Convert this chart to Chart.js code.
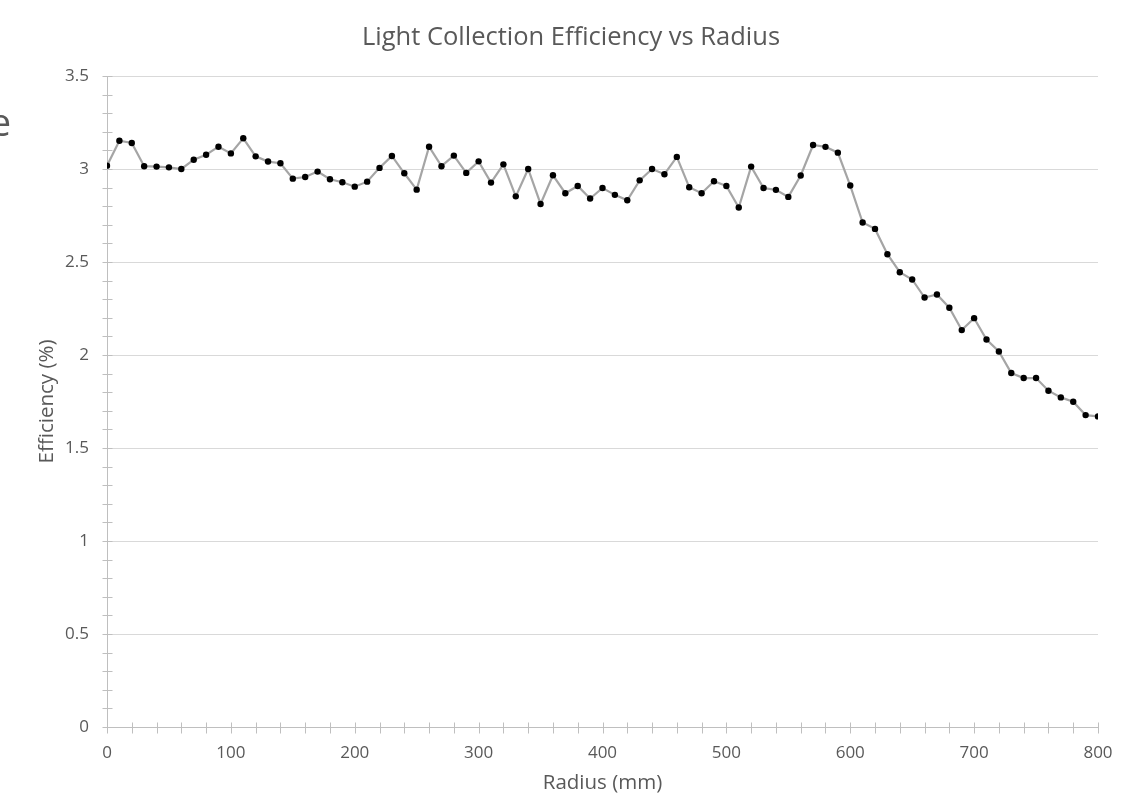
<!DOCTYPE html>
<html><head><meta charset="utf-8">
<script src="https://cdn.jsdelivr.net/npm/chart.js@4/dist/chart.umd.min.js"></script>
<style>html,body{margin:0;padding:0;background:#fff;overflow:hidden}#wrap{width:1130px;height:811px;position:relative}</style>
</head><body><div id="wrap"><canvas id="c" width="1130" height="811"></canvas></div>
<script>
const chartTitle = 'Light Collection Efficiency vs Radius';
const xTitle = 'Radius (mm)';
const yTitle = 'Efficiency (%)';
const radius = [0,10,20,30,40,50,60,70,80,90,100,110,120,130,140,150,160,170,180,190,200,210,220,230,240,250,260,270,280,290,300,310,320,330,340,350,360,370,380,390,400,410,420,430,440,450,460,470,480,490,500,510,520,530,540,550,560,570,580,590,600,610,620,630,640,650,660,670,680,690,700,710,720,730,740,750,760,770,780,790,800];
const efficiency = [3.018,3.152,3.140,3.015,3.013,3.009,3.000,3.050,3.077,3.120,3.084,3.165,3.068,3.040,3.031,2.948,2.957,2.986,2.945,2.929,2.905,2.932,3.006,3.070,2.977,2.889,3.120,3.015,3.072,2.979,3.041,2.927,3.025,2.853,3.000,2.812,2.966,2.870,2.909,2.841,2.898,2.861,2.832,2.939,3.000,2.972,3.065,2.902,2.870,2.934,2.909,2.793,3.013,2.898,2.888,2.850,2.965,3.129,3.119,3.088,2.911,2.712,2.678,2.542,2.445,2.406,2.309,2.325,2.254,2.134,2.198,2.083,2.019,1.903,1.876,1.876,1.808,1.772,1.749,1.677,1.670];
const xRange = [0, 800];
const yRange = [0, 3.5];
const xMajorStep = 100, xMinorStep = 20;
const yMajorStep = 0.5, yMinorStep = 0.1;

const FONT = "'Open Sans', 'Noto Sans', sans-serif";
const TEXT = '#595959';
const AXIS = '#bfbfbf';
const GRID = '#d9d9d9';

const crossTicks = {
  id: 'crossTicks',
  beforeDatasetsDraw(chart) {
    const {ctx, scales: {x, y}} = chart;
    ctx.save();
    ctx.strokeStyle = AXIS;
    ctx.lineWidth = 1;
    ctx.beginPath();
    const yb = Math.round(y.getPixelForValue(yRange[0])) + 0.5;
    const nx = Math.round((xRange[1] - xRange[0]) / xMinorStep);
    for (let i = 0; i <= nx; i++) {
      const px = Math.round(x.getPixelForValue(xRange[0] + i * xMinorStep)) + 0.5;
      ctx.moveTo(px, yb - 5); ctx.lineTo(px, yb + 6);
    }
    const xl = Math.round(x.getPixelForValue(xRange[0])) + 0.5;
    const ny = Math.round((yRange[1] - yRange[0]) / yMinorStep);
    for (let i = 0; i <= ny; i++) {
      const py = Math.round(y.getPixelForValue(yRange[0] + i * yMinorStep)) + 0.5;
      ctx.moveTo(xl - 5, py); ctx.lineTo(xl + 5, py);
    }
    ctx.stroke();
    ctx.restore();
  }
};

const fragment = {
  id: 'fragment',
  afterDraw(chart) {
    const ctx = chart.ctx;
    ctx.save();
    ctx.fillStyle = TEXT;
    ctx.font = "38px " + FONT;
    ctx.textAlign = 'right';
    ctx.textBaseline = 'alphabetic';
    ctx.fillText('e', 11, 136);
    ctx.restore();
  }
};

new Chart(document.getElementById('c'), {
  type: 'line',
  data: {
    datasets: [{
      label: 'Efficiency',
      data: radius.map((r, i) => ({x: r, y: efficiency[i]})),
      borderColor: '#a5a5a5',
      borderWidth: 2.2,
      pointRadius: 3.2,
      pointBackgroundColor: '#000',
      pointBorderColor: '#000',
      pointBorderWidth: 0,
      tension: 0,
      fill: false
    }]
  },
  options: {
    responsive: false,
    animation: false,
    devicePixelRatio: 1,
    layout: {padding: {left: 44, right: 32, top: 0, bottom: 0}},
    plugins: {
      legend: {display: false},
      tooltip: {enabled: false},
      title: {
        display: true,
        text: chartTitle,
        color: TEXT,
        font: {family: FONT, size: 25.5, weight: 'normal'},
        padding: {top: 22.7, bottom: 22.7}
      }
    },
    scales: {
      x: {
        type: 'linear',
        min: xRange[0], max: xRange[1],
        afterFit: s => { s.height = 84; },
        ticks: {stepSize: xMajorStep, color: TEXT, font: {family: FONT, size: 17}, padding: 16, maxRotation: 0},
        grid: {drawOnChartArea: false, drawTicks: false},
        border: {display: true, color: AXIS, width: 1},
        title: {display: true, text: xTitle, color: TEXT, font: {family: FONT, size: 20.5}, padding: {top: 0, bottom: 15.5}}
      },
      y: {
        type: 'linear',
        min: yRange[0], max: yRange[1],
        afterFit: s => { s.width = 63; },
        ticks: {stepSize: yMajorStep, color: TEXT, font: {family: FONT, size: 17}, padding: 18,
          callback: v => String(+Number(v).toFixed(1))},
        grid: {color: GRID, lineWidth: 1, drawTicks: false},
        border: {display: true, color: AXIS, width: 1},
        title: {display: true, text: yTitle, color: TEXT, font: {family: FONT, size: 20.5}, padding: {top: -9, bottom: 0}}
      }
    }
  },
  plugins: [crossTicks, fragment]
});
</script>
</body></html>
